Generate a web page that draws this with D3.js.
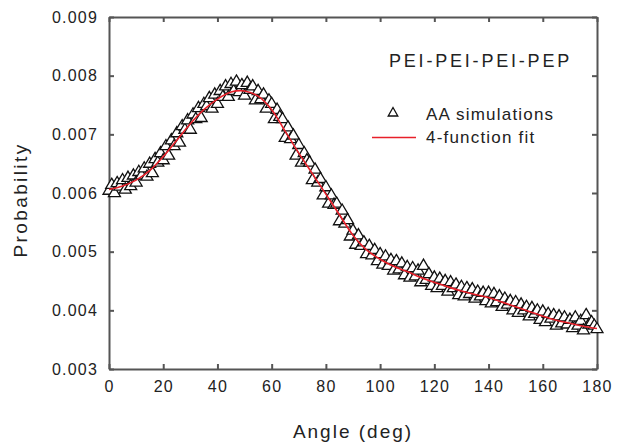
<!DOCTYPE html>
<html>
  <head>
    <meta charset="utf-8">
    <title></title>
  </head>
  <style>
  body{
      margin: 0;
      font-family: "Liberation Sans", Arial, sans-serif;
      background: #fff;
    }
  .axis path, .axis line {
    stroke: #555;
    stroke-width: 2;
  }
  .axis text {
    fill: #222;
    font-size: 16px;
    letter-spacing: 1.2px;
  }
  </style>
  <script src="https://d3js.org/d3.v7.min.js"></script>
  <body>
    <script>
    // simulation histogram, one bin per degree (x 1e-5)
    const simAngles = d3.range(0, 181, 1)
    const simValues = [
      604, 614, 600, 617, 611, 622, 606, 626, 612, 630,
      618, 636, 630, 642, 628, 650, 634, 658, 652, 668,
      656, 680, 664, 690, 680, 702, 686, 714, 708, 724,
      708, 734, 726, 745, 728, 752, 748, 762, 744, 768,
      752, 774, 764, 782, 764, 786, 774, 790, 772, 784,
      766, 788, 776, 782, 758, 774, 760, 768, 744, 758,
      752, 726, 742, 730, 726, 694, 712, 692, 698, 664,
      682, 652, 668, 656, 652, 622, 640, 618, 624, 596,
      610, 582, 596, 580, 582, 552, 570, 548, 554, 526,
      536, 512, 528, 510, 516, 496, 510, 494, 503, 484,
      496, 478, 492, 476, 486, 468, 484, 470, 480, 460,
      474, 456, 472, 458, 468, 448, 476, 452, 462, 442,
      456, 438, 454, 442, 450, 432, 448, 438, 444, 426,
      440, 424, 438, 428, 436, 420, 432, 424, 430, 416,
      430, 412, 428, 414, 424, 406, 420, 410, 416, 400,
      414, 396, 410, 400, 406, 390, 404, 394, 400, 384,
      398, 380, 394, 386, 392, 374, 390, 378, 388, 376,
      384, 370, 388, 374, 382, 366, 392, 376, 380, 374, 368
    ].map(function(v){ return v / 1e5 })

    // 4-function fit, sampled every 5 degrees
    const fitAngles = [0, 5, 10, 15, 20, 25, 30, 35, 40, 45, 50, 55, 60, 65, 70, 75, 80, 85, 90,
                       95, 100, 105, 110, 115, 120, 125, 130, 135, 140, 145, 150, 155, 160, 165, 170, 175, 180]
    const fitValues = [0.00606, 0.00612, 0.00622, 0.00638, 0.00662, 0.00690, 0.00718, 0.00742, 0.00760,
                       0.00772, 0.00774, 0.00765, 0.00742, 0.00705, 0.00668, 0.00633, 0.00598, 0.00563,
                       0.00528, 0.00503, 0.00487, 0.00475, 0.00466, 0.00456, 0.00448, 0.00440, 0.00433,
                       0.00427, 0.00422, 0.00414, 0.00406, 0.00398, 0.00390, 0.00383, 0.00378, 0.00373, 0.00369]

    const xTicks = [0, 20, 40, 60, 80, 100, 120, 140, 160, 180]
    const yTicks = [0.003, 0.004, 0.005, 0.006, 0.007, 0.008, 0.009]

    var W = 617, H = 444
    var padding = { left: 109, top: 17, right: 20, bottom: 75 }
    var width = W - padding.left - padding.right
    var height = H - padding.top - padding.bottom

    var svg = d3.select("body").append("svg")
                .attr("width", W)
                .attr("height", H)

    var g = svg.append("g")
               .attr("transform", "translate(" + padding.left + "," + padding.top + ")")

    var xScale = d3.scaleLinear().domain([0, 180]).range([0, width])
    var yScale = d3.scaleLinear().domain([0.003, 0.009]).range([height, 0])

    // axes, ticks pointing inward
    g.append("g").attr("class", "axis")
      .attr("transform", "translate(0," + height + ")")
      .call(d3.axisBottom(xScale).tickValues(xTicks).tickSizeInner(-5).tickSizeOuter(0).tickPadding(12))
    g.append("g").attr("class", "axis")
      .call(d3.axisTop(xScale).tickValues(xTicks).tickSizeInner(-5).tickSizeOuter(0).tickFormat(""))
    g.append("g").attr("class", "axis")
      .call(d3.axisLeft(yScale).tickValues(yTicks).tickSizeInner(-5).tickSizeOuter(0).tickPadding(11)
             .tickFormat(d3.format(".3f")))
    g.append("g").attr("class", "axis")
      .attr("transform", "translate(" + width + ",0)")
      .call(d3.axisRight(yScale).tickValues(yTicks).tickSizeInner(-5).tickSizeOuter(0).tickFormat(""))

    // triangles
    var tri = "M0,-6.6L6,3.6L-6,3.6Z"
    var sim = simAngles.map(function(a, i){ return { a: a, v: simValues[i] } })
    g.append("g").selectAll("path")
      .data(sim)
      .enter()
      .append("path")
      .attr("d", tri)
      .attr("transform", function(d){ return "translate(" + xScale(d.a) + "," + yScale(d.v) + ")" })
      .attr("fill", "#fff")
      .attr("stroke", "#111")
      .attr("stroke-width", 1.3)

    // fit line
    var line = d3.line()
                 .x(function(d, i){ return xScale(fitAngles[i]) })
                 .y(function(d){ return yScale(d) })
                 .curve(d3.curveCatmullRom)
    g.append("path")
      .datum(fitValues)
      .attr("d", line)
      .attr("fill", "none")
      .attr("stroke", "#e8202a")
      .attr("stroke-width", 1.6)

    // title and legend
    svg.append("text").attr("x", 389).attr("y", 67)
       .attr("font-size", 18).attr("letter-spacing", "2.8px").attr("fill", "#222")
       .text("PEI-PEI-PEI-PEP")
    svg.append("path").attr("d", "M0,-5.5L4.8,3L-4.8,3Z")
       .attr("transform", "translate(393,113)")
       .attr("fill", "#fff").attr("stroke", "#111").attr("stroke-width", 1.3)
    svg.append("text").attr("x", 426).attr("y", 120)
       .attr("font-size", 17).attr("letter-spacing", "1.2px").attr("fill", "#222")
       .text("AA simulations")
    svg.append("line").attr("x1", 372).attr("x2", 416).attr("y1", 137.5).attr("y2", 137.5)
       .attr("stroke", "#e8202a").attr("stroke-width", 1.6)
    svg.append("text").attr("x", 426).attr("y", 143)
       .attr("font-size", 17).attr("letter-spacing", "1.2px").attr("fill", "#222")
       .text("4-function fit")

    // axis titles
    svg.append("text").attr("x", padding.left + width / 2).attr("y", 438)
       .attr("text-anchor", "middle").attr("font-size", 19).attr("letter-spacing", "2px").attr("fill", "#222")
       .text("Angle (deg)")
    svg.append("text").attr("transform", "translate(27,200) rotate(-90)")
       .attr("text-anchor", "middle").attr("font-size", 19).attr("letter-spacing", "2.4px").attr("fill", "#222")
       .text("Probability")
    </script>
  </body>
</html>
